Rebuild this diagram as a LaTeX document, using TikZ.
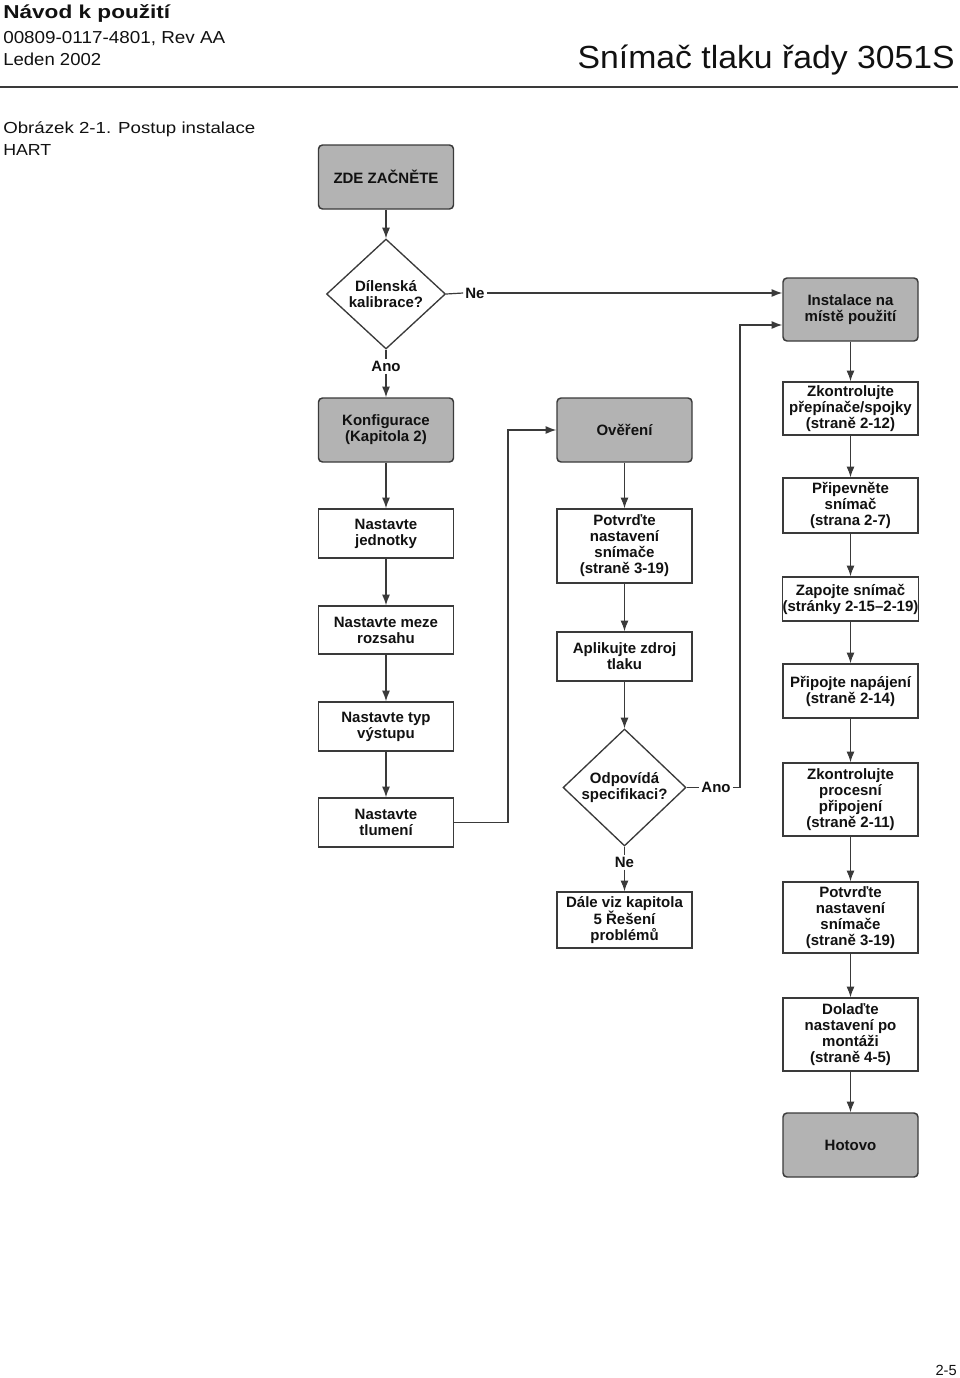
\documentclass[tikz,border=0pt]{standalone}
\usepackage{fontspec}
\setmainfont{Liberation Sans}
\usepackage{graphicx}
\usetikzlibrary{shapes.geometric,arrows.meta}
\definecolor{boxgrey}{HTML}{B3B3B3}
\definecolor{linec}{HTML}{3A3A3A}
\definecolor{txt}{HTML}{111111}
\newcommand\boxfont{\fontsize{11.25}{12}\selectfont\bfseries}
\begin{document}
\begin{tikzpicture}[x=0.75pt,y=-0.75pt,
  every node/.style={text=txt},
  wbox/.style={draw=linec, line width=1.1pt, fill=white, minimum width=101.25pt, align=center, font=\boxfont, inner sep=0pt},
  gbox/.style={wbox, fill=boxgrey, rounded corners=3pt},
  dbox/.style={diamond, draw=linec, line width=1pt, fill=white, align=center, font=\boxfont, inner sep=0pt},
  lbl/.style={font=\boxfont, inner sep=1.5pt},
  conn/.style={draw=linec, line width=0.9pt},
  arr/.style={conn, -{Latex[length=8pt,width=6pt]}},
  hdr/.style={inner sep=0pt, anchor=base west}
]
\useasboundingbox (0,0) rectangle (960,1378);

% header
\node[hdr, font=\fontsize{14}{14}\selectfont\bfseries] (h1) at (3,18) {\resizebox{125.25pt}{\height}{Návod k použití}};
\node[hdr, font=\fontsize{13}{13}\selectfont] (h2) at (3,43) {\resizebox{166.5pt}{\height}{00809-0117-4801, Rev AA}};
\node[hdr, font=\fontsize{13}{13}\selectfont] (h3) at (3,65) {\resizebox{73.5pt}{\height}{Leden 2002}};
\node[inner sep=0pt, anchor=base east, font=\fontsize{24}{24}\selectfont] (title) at (955,68) {\resizebox{282.75pt}{\height}{Snímač tlaku řady 3051S}};
\coordinate (rl) at (0,87);
\coordinate (rr) at (958,87);
\draw[line width=1.5pt, draw=linec] (rl) -- (rr);
\node[hdr, font=\fontsize{12}{12}\selectfont] (cap1) at (3,133) {\resizebox{189pt}{\height}{Obrázek 2-1. Postup instalace}};
\node[hdr, font=\fontsize{12}{12}\selectfont] (cap2) at (3,155) {\resizebox{36pt}{\height}{HART}};
\node[inner sep=0pt, anchor=base east, font=\fontsize{11}{11}\selectfont] (pg) at (957,1375) {2-5};

% left column
\node[gbox, minimum height=48pt] (start) at (386,177) {ZDE ZAČNĚTE};
\node[dbox, minimum width=89.25pt, minimum height=82.5pt] (d1) at (386,294) {Dílenská\\kalibrace?};
\node[lbl] (ano1) at (386,366) {Ano};
\node[gbox, minimum height=48pt] (konf) at (386,430) {Konfigurace\\(Kapitola 2)};
\node[wbox, minimum height=36.75pt] (jed) at (386,533.5) {Nastavte\\jednotky};
\node[wbox, minimum height=36pt] (mez) at (386,630) {Nastavte meze\\rozsahu};
\node[wbox, minimum height=36.75pt] (typ) at (386,726.5) {Nastavte typ\\výstupu};
\node[wbox, minimum height=36.75pt] (tlu) at (386,822.5) {Nastavte\\tlumení};

% middle column
\node[gbox, minimum height=48pt] (ov) at (624.5,430) {Ověření};
\node[wbox, minimum height=55.5pt] (pot1) at (624.5,546) {Potvrďte\\nastavení\\snímače\\(straně 3-19)};
\node[wbox, minimum height=36.75pt] (apl) at (624.5,656.5) {Aplikujte zdroj\\tlaku};
\node[dbox, minimum width=92.25pt, minimum height=87.75pt] (d2) at (624.5,787.5) {Odpovídá\\specifikaci?};
\node[lbl] (ne2) at (624.5,862) {Ne};
\node[lbl] (ano2) at (716,787.5) {Ano};
\node[wbox, minimum height=42pt] (dale) at (624.5,920) {Dále viz kapitola\\5 Řešení\\problémů};

% right column
\node[lbl] (ne1) at (475,293) {Ne};
\node[gbox, minimum height=47.25pt] (inst) at (850.5,309.5) {Instalace na\\místě použití};
\node[wbox, minimum height=39.75pt] (zk1) at (850.5,408.5) {Zkontrolujte\\přepínače/spojky\\(straně 2-12)};
\node[wbox, minimum height=41.25pt] (pri) at (850.5,505.5) {Připevněte\\snímač\\(strana 2-7)};
\node[wbox, minimum height=33pt] (zap) at (850.5,599) {Zapojte snímač\\(stránky 2-15–2-19)};
\node[wbox, minimum height=40.5pt] (nap) at (850.5,691) {Připojte napájení\\(straně 2-14)};
\node[wbox, minimum height=54.75pt] (zk2) at (850.5,799.5) {Zkontrolujte\\procesní\\připojení\\(straně 2-11)};
\node[wbox, minimum height=53.25pt] (pot2) at (850.5,917.5) {Potvrďte\\nastavení\\snímače\\(straně 3-19)};
\node[wbox, minimum height=54.75pt] (dol) at (850.5,1034.5) {Dolaďte\\nastavení po\\montáži\\(straně 4-5)};
\node[gbox, minimum height=48pt] (hot) at (850.5,1145) {Hotovo};

\coordinate (j1) at (508,430);
\coordinate (j2) at (740,325);

% connectors
\draw[arr] (start.south) -- (d1.north);
\draw[conn] (d1.east) -- (ne1.west);
\draw[arr] (ne1.east) -- (ne1.east -| inst.west);
\draw[conn] (d1.south) -- (ano1.north);
\draw[arr] (ano1.south) -- (konf.north);
\draw[arr] (konf.south) -- (jed.north);
\draw[arr] (jed.south) -- (mez.north);
\draw[arr] (mez.south) -- (typ.north);
\draw[arr] (typ.south) -- (tlu.north);
\draw[arr] (tlu.east) -| (j1) -- (ov.west);
\draw[arr] (ov.south) -- (pot1.north);
\draw[arr] (pot1.south) -- (apl.north);
\draw[arr] (apl.south) -- (d2.north);
\draw[conn] (d2.east) -- (ano2.west);
\draw[arr] (ano2.east) -| (j2) -- (j2 -| inst.west);
\draw[conn] (d2.south) -- (ne2.north);
\draw[arr] (ne2.south) -- (dale.north);
\draw[arr] (inst.south) -- (zk1.north);
\draw[arr] (zk1.south) -- (pri.north);
\draw[arr] (pri.south) -- (zap.north);
\draw[arr] (zap.south) -- (nap.north);
\draw[arr] (nap.south) -- (zk2.north);
\draw[arr] (zk2.south) -- (pot2.north);
\draw[arr] (pot2.south) -- (dol.north);
\draw[arr] (dol.south) -- (hot.north);
\end{tikzpicture}
\end{document}
